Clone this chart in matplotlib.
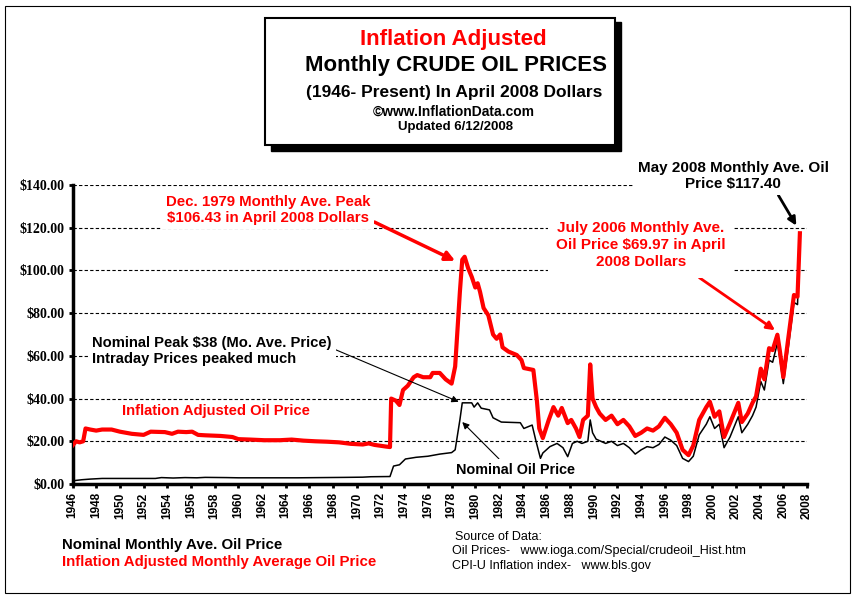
import matplotlib
matplotlib.use('Agg')
import matplotlib.pyplot as plt
from matplotlib.patches import Rectangle

# inflation adjusted monthly average (April 2008 dollars)
real_years = [1946.0, 1946.3, 1946.6, 1946.9, 1947.1, 1947.5, 1948.0, 1948.5, 1949.3, 1950.0,
              1951.0, 1952.0, 1952.6, 1953.8, 1954.4, 1954.9, 1955.6, 1956.1, 1956.6, 1957.2,
              1958.5, 1959.5, 1960.0, 1961.0, 1962.2, 1963.5, 1964.5, 1965.5, 1966.5, 1967.5,
              1968.5, 1969.5, 1970.5, 1971.0, 1971.5, 1972.5, 1972.8, 1972.9, 1973.3, 1973.6,
              1973.9, 1974.3, 1974.8, 1975.1, 1975.6, 1976.2, 1976.4, 1977.0, 1977.5, 1978.0,
              1978.3, 1978.7, 1978.9, 1979.1, 1979.4, 1979.7, 1980.0, 1980.2, 1980.4, 1980.7,
              1981.1, 1981.5, 1981.8, 1982.1, 1982.3, 1982.8, 1983.5, 1983.9, 1984.1, 1984.9,
              1985.2, 1985.4, 1985.7, 1986.2, 1986.6, 1987.0, 1987.3, 1987.8, 1988.1, 1988.5,
              1988.8, 1989.1, 1989.5, 1989.7, 1989.9, 1990.2, 1990.5, 1991.0, 1991.5, 1992.0,
              1992.5, 1993.0, 1993.5, 1994.0, 1994.5, 1995.0, 1995.5, 1996.0, 1996.5, 1997.0,
              1997.5, 1998.0, 1998.4, 1998.9, 1999.5, 1999.8, 2000.2, 2000.6, 2001.0, 2001.5,
              2002.2, 2002.5, 2003.0, 2003.4, 2003.7, 2004.1, 2004.4, 2004.8, 2005.1, 2005.5,
              2005.7, 2006.0, 2006.4, 2006.9, 2007.2, 2007.4]
real_prices = [18, 20, 19.5, 20, 26, 25.5, 25, 25.5, 25.5, 24.5,
               23.5, 23, 24.5, 24.3, 23.5, 24.5, 24.3, 24.5, 23, 22.8,
               22.5, 22, 21, 20.8, 20.5, 20.5, 20.8, 20.3, 20, 19.8,
               19.5, 18.8, 18.5, 19, 18.3, 17.5, 17.3, 40, 39, 37,
               44, 46, 50, 51, 50, 50, 52, 52, 49, 47,
               55, 90, 105, 106.4, 101, 97, 92, 94, 90, 82.4,
               79, 70, 68, 70, 64, 62, 60.4, 58, 54.3, 53.4,
               39, 26, 21.5, 30, 36, 32, 35.6, 28.5, 30, 26,
               22, 30, 32, 56, 40, 36, 33, 30, 32, 28,
               30, 27, 22.5, 24, 26, 25, 27, 31, 28, 24,
               16, 13.5, 18, 30, 36, 38.5, 31.5, 34, 22, 28.5,
               38, 29, 33, 38, 41, 54, 49, 63.6, 62.7, 69.9,
               62.7, 50, 67.4, 88.5, 87.7, 117.4]

# nominal monthly average
nom_years = [1946.0, 1946.8, 1947.5, 1948.5, 1953.0, 1953.5, 1954.5, 1955.5, 1956.5, 1957.2,
             1959.0, 1960.0, 1965.0, 1969.0, 1970.5, 1971.2, 1972.8, 1973.1, 1973.6, 1974.1,
             1975.0, 1976.0, 1977.0, 1978.0, 1978.3, 1978.7, 1978.9, 1979.7, 1979.9, 1980.2,
             1980.5, 1981.2, 1981.5, 1982.2, 1983.8, 1984.1, 1984.8, 1985.1, 1985.5, 1985.7,
             1986.3, 1986.9, 1987.4, 1987.8, 1988.2, 1988.6, 1989.0, 1989.5, 1989.7, 1989.9,
             1990.2, 1990.6, 1991.0, 1991.5, 1992.0, 1992.5, 1993.0, 1993.5, 1994.0, 1994.5,
             1995.0, 1995.5, 1996.0, 1996.5, 1997.0, 1997.5, 1998.0, 1998.4, 1998.9, 1999.5,
             1999.8, 2000.2, 2000.6, 2001.0, 2001.5, 2002.2, 2002.5, 2003.0, 2003.4, 2003.7,
             2004.1, 2004.4, 2004.8, 2005.1, 2005.5, 2005.7, 2006.0, 2006.4, 2006.9, 2007.2,
             2007.4]
nom_prices = [1.5, 2.0, 2.3, 2.6, 2.6, 3.0, 2.8, 3.0, 2.9, 3.1,
              3.0, 2.9, 2.9, 3.1, 3.2, 3.4, 3.5, 8.4, 9.0, 11.7,
              12.5, 13.0, 14.0, 14.7, 16, 30, 38, 38, 36, 38,
              35.5, 34.7, 31, 29, 28.7, 26, 27.6, 20.6, 12, 14.5,
              17.5, 19, 17, 12.8, 19, 20, 19, 20, 30, 24,
              21, 20, 19, 20, 18, 19, 17, 14, 16, 17.5,
              17, 18.5, 22, 20.5, 18, 12, 10.5, 13, 23, 28,
              31.5, 26, 28, 17, 22, 31.5, 24, 28, 32, 36,
              48, 44, 58, 57, 66, 59, 47, 63, 85, 84,
              117.4]

year_ticks = list(range(1946, 2009, 2))
price_ticks = [0, 20, 40, 60, 80, 100, 120, 140]

RED = '#ff0000'
W, H = 863, 610


def fx(x):
    return x / W


def fy(y):
    return 1 - y / H


fig = plt.figure(figsize=(8.63, 6.10), dpi=100)
fig.patch.set_facecolor('white')

# outer frame
fig.patches.append(Rectangle((fx(5), fy(593)), fx(850) - fx(5), fy(6) - fy(593),
                             transform=fig.transFigure, fill=False, ec='black', lw=0.8))

ax = fig.add_axes([fx(72.5), fy(484), fx(807) - fx(72.5), fy(185) - fy(484)])
ax.plot(nom_years, nom_prices, color='black', lw=1.1, zorder=3)
ax.plot(real_years, real_prices, color=RED, lw=3, zorder=4)

ax.set_xlim(1946, 2008)
ax.set_ylim(0, 140)
ax.set_xticks(year_ticks)
ax.set_xticklabels([str(y) for y in year_ticks], rotation=90, fontsize=8.5,
                   fontweight='bold', family='Liberation Sans')
ax.set_yticks(price_ticks)
ax.set_yticklabels(['$%.2f' % p for p in price_ticks], fontsize=10,
                   fontweight='bold', family='Liberation Serif')
ax.yaxis.grid(True, linestyle=(0, (3, 2)), color='black', lw=0.8)
ax.set_axisbelow(True)
for s in ['top', 'right']:
    ax.spines[s].set_visible(False)
ax.spines['left'].set_linewidth(2.5)
ax.spines['bottom'].set_linewidth(2.5)
ax.tick_params(length=3, width=2, pad=3)

# title box with shadow
fig.patches.append(Rectangle((fx(271), fy(151)), fx(621) - fx(271), fy(22) - fy(151),
                             transform=fig.transFigure, fc='black', ec='black', zorder=1))
fig.patches.append(Rectangle((fx(265), fy(145)), fx(615) - fx(265), fy(18) - fy(145),
                             transform=fig.transFigure, fc='white', ec='black', lw=1.5, zorder=2))
tkw = dict(ha='center', va='center', fontweight='bold', family='Liberation Sans', zorder=3)
fig.text(fx(453), fy(40), 'Inflation Adjusted', color=RED, fontsize=16, **tkw)
fig.text(fx(456), fy(65), 'Monthly CRUDE OIL PRICES', color='black', fontsize=16, **tkw)
fig.text(fx(454), fy(93), '(1946- Present) In April 2008 Dollars', color='black', fontsize=12.5, **tkw)
fig.text(fx(454), fy(112), '\u00a9www.InflationData.com', color='black', fontsize=10, **tkw)
fig.text(fx(455), fy(127), 'Updated 6/12/2008', color='black', fontsize=9.5, **tkw)

# annotations
akw = dict(fontweight='bold', family='Liberation Sans', xycoords='data',
           textcoords='figure fraction', zorder=6)
ax.annotate('Dec. 1979 Monthly Ave. Peak\n$106.43 in April 2008 Dollars',
            xy=(1978.3, 104.5), xytext=(fx(268), fy(210)), color=RED, ha='center', va='center',
            fontsize=10.8, bbox=dict(fc='white', ec='none', pad=3),
            arrowprops=dict(arrowstyle='-|>', color=RED, lw=2.5, mutation_scale=14,
                            shrinkA=0, shrinkB=0, relpos=(0.99, 0.2)), **akw)
ax.annotate('May 2008 Monthly Ave. Oil\nPrice $117.40',
            xy=(2007.1, 121), xytext=(fx(733), fy(176)), color='black', ha='center', va='center',
            fontsize=11, bbox=dict(fc='white', ec='none', pad=3),
            arrowprops=dict(arrowstyle='-|>', color='black', lw=2, mutation_scale=12,
                            shrinkA=0, shrinkB=0, relpos=(0.72, 0.05)), **akw)
ax.annotate('July 2006 Monthly Ave.\nOil Price $69.97 in April\n2008 Dollars',
            xy=(2005.3, 72), xytext=(fx(641), fy(245)), color=RED, ha='center', va='center',
            fontsize=11, linespacing=1.3, bbox=dict(fc='white', ec='none', pad=6),
            arrowprops=dict(arrowstyle='-|>', color=RED, lw=2, mutation_scale=12,
                            shrinkA=0, shrinkB=0, relpos=(0.74, 0.08)), **akw)
ax.annotate('Nominal Peak $38 (Mo. Ave. Price)\nIntraday Prices peaked much',
            xy=(1978.6, 38.5), xytext=(fx(92), fy(351)), color='black', ha='left', va='center',
            fontsize=10.6, bbox=dict(fc='white', ec='none', pad=3),
            arrowprops=dict(arrowstyle='-|>', color='black', lw=0.8, mutation_scale=10,
                            shrinkA=0, shrinkB=0, relpos=(1.0, 0.6)), **akw)
ax.annotate('Nominal Oil Price',
            xy=(1978.9, 29), xytext=(fx(515), fy(470)), color='black', ha='center', va='center',
            fontsize=10.4, bbox=dict(fc='white', ec='none', pad=3),
            arrowprops=dict(arrowstyle='-|>', color='black', lw=0.8, mutation_scale=10,
                            shrinkA=0, shrinkB=0, relpos=(0.4, 1.0)), **akw)
fig.text(fx(122), fy(411), 'Inflation Adjusted Oil Price', color=RED, fontsize=10.6,
         fontweight='bold', family='Liberation Sans', va='center', zorder=6)

# legend-like text at the bottom
fig.text(fx(62), fy(545), 'Nominal Monthly Ave. Oil Price', color='black', fontsize=10.8,
         fontweight='bold', family='Liberation Sans', va='center')
fig.text(fx(62), fy(562), 'Inflation Adjusted Monthly Average Oil Price', color=RED,
         fontsize=10.8, fontweight='bold', family='Liberation Sans', va='center')

# source notes
skw = dict(fontsize=9, family='Liberation Sans', va='center', color='black')
fig.text(fx(455), fy(537), 'Source of Data:', **skw)
fig.text(fx(452), fy(551), 'Oil Prices-   www.ioga.com/Special/crudeoil_Hist.htm', **skw)
fig.text(fx(452), fy(566), 'CPI-U Inflation index-   www.bls.gov', **skw)

plt.savefig('out.png', dpi=100)
